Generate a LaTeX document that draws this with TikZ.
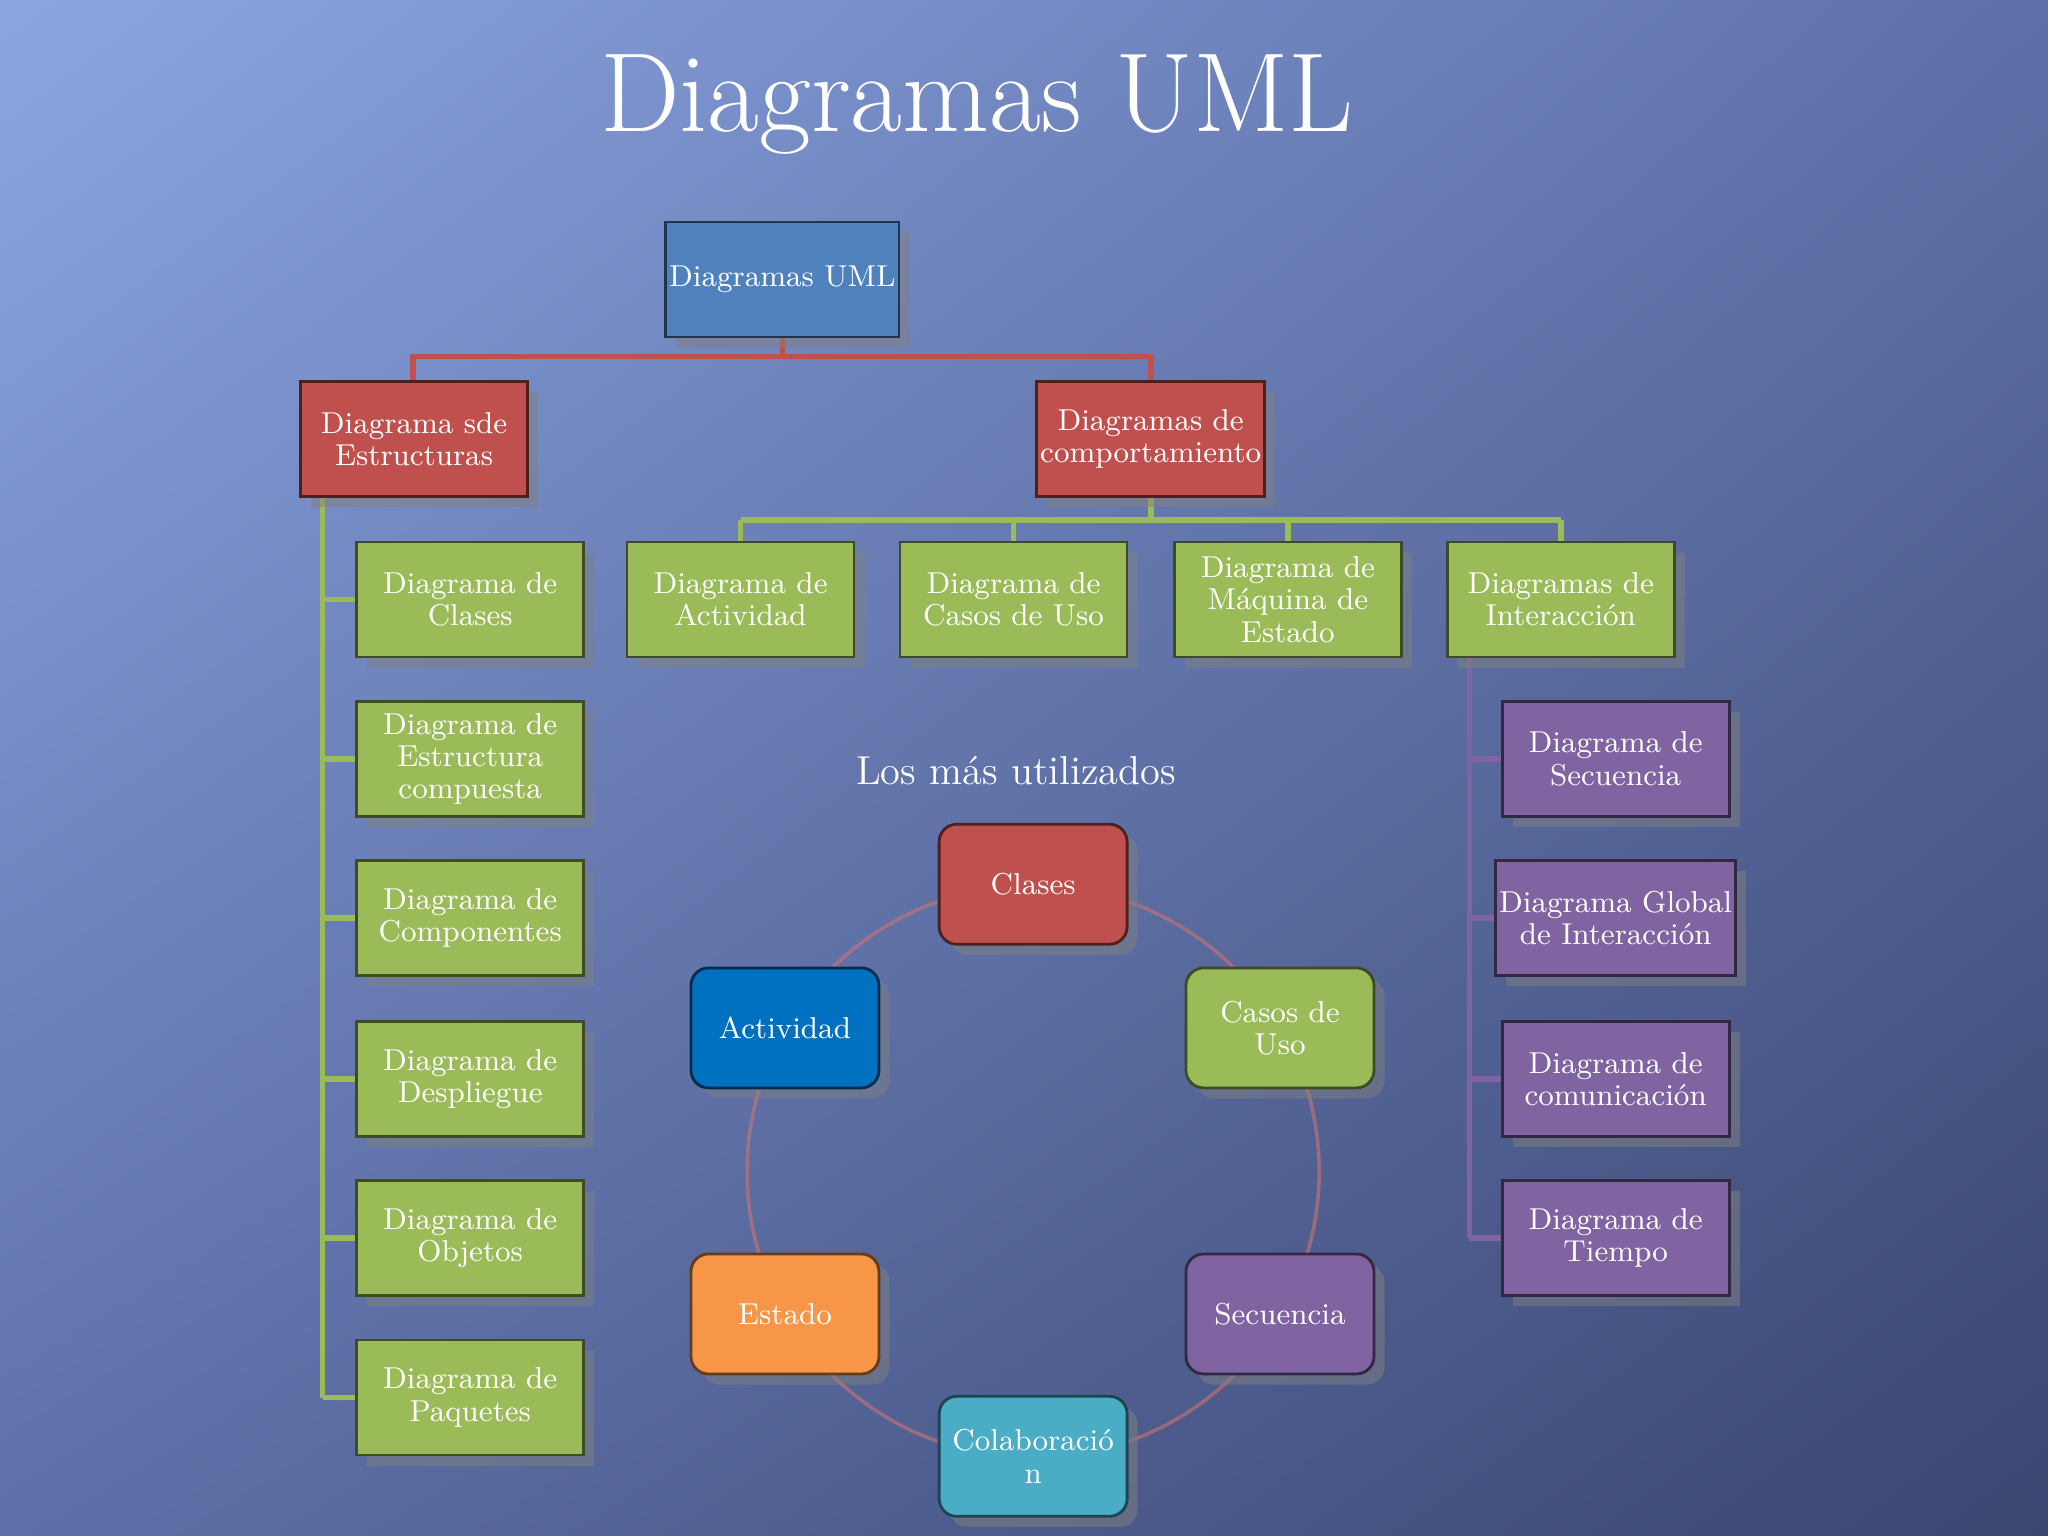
\documentclass[tikz,border=0pt]{standalone}
\usetikzlibrary{shadows,shadings}
\begin{document}
\begin{tikzpicture}[x=0.01306cm,y=-0.01306cm,
  bx/.style={draw=#1!40!black,line width=0.8pt,align=center,text=white,font=\fontsize{8.6}{9.2}\selectfont,inner sep=1pt,
    drop shadow={opacity=0.5,shadow xshift=3pt,shadow yshift=-3pt}},
  sq/.style={bx=#1,fill=#1,minimum width=2.27cm,minimum height=1.15cm},
  rd/.style={bx=#1,fill=#1,minimum width=1.88cm,minimum height=1.2cm,rounded corners=5pt}]
\definecolor{cb}{HTML}{4F81BD}\definecolor{cr}{HTML}{C0504D}\definecolor{cg}{HTML}{9BBB59}
\definecolor{cp}{HTML}{8064A2}\definecolor{ca}{HTML}{0070C0}\definecolor{co}{HTML}{F79646}\definecolor{cc}{HTML}{4BACC6}
\definecolor{bgA}{HTML}{8CA6E2}\definecolor{bgB}{HTML}{3E4C7A}\definecolor{bgC}{HTML}{5E70A8}\definecolor{bgD}{HTML}{3A4670}
\shade[upper left=bgA,upper right=bgC,lower left=bgC,lower right=bgD] (0,0) rectangle (1568,1176);
\useasboundingbox (0,0) rectangle (1568,1176);
\node[text=white,font=\fontsize{32}{34}\selectfont] (title) at (748,80) {Diagramas UML};
\node[text=white,font=\fontsize{11.5}{12}\selectfont] (lmu) at (778,590) {Los más utilizados};
% tree connectors
\coordinate (r1) at (599,273);
\draw[cr,line width=1.6pt] (599,258) -- (r1) -- (316,273) -- (316,292) (r1) -- (881,273) -- (881,292);
\draw[cg,line width=1.6pt] (881,380) -- (881,398) (567,398) -- (1195,398);
\foreach \x in {567,776,986,1195} \draw[cg,line width=1.6pt] (\x,398) -- (\x,414);
\draw[cg,line width=1.6pt] (247,380) -- (247,1070);
\foreach \y in {459,581,703,826,948,1070} \draw[cg,line width=1.6pt] (247,\y) -- (272,\y);
\draw[cp,line width=1.6pt] (1125,502) -- (1125,948);
\foreach \y in {581,703,826,948} \draw[cp,line width=1.6pt] (1125,\y) -- (1150,\y);
% tree nodes
\node[sq=cb] (uml) at (599,214) {Diagramas UML};
\node[sq=cr] (est) at (317,336) {Diagrama sde\\Estructuras};
\node[sq=cr] (com) at (881,336) {Diagramas de\\comportamiento};
\node[sq=cg] (g1) at (567,459) {Diagrama de\\Actividad};
\node[sq=cg] (g2) at (776,459) {Diagrama de\\Casos de Uso};
\node[sq=cg] (g3) at (986,459) {Diagrama de\\Máquina de\\Estado};
\node[sq=cg] (g4) at (1195,459) {Diagramas de\\Interacción};
\foreach \n/\y/\t in {l1/459/{Diagrama de\\Clases},l2/581/{Diagrama de\\Estructura\\compuesta},l3/703/{Diagrama de\\Componentes},l4/826/{Diagrama de\\Despliegue},l5/948/{Diagrama de\\Objetos},l6/1070/{Diagrama de\\Paquetes}}
  \node[sq=cg] (\n) at (360,\y) {\t};
\foreach \n/\y/\t in {p1/581/{Diagrama de\\Secuencia},p2/703/{Diagrama Global\\de Interacción},p3/826/{Diagrama de\\comunicación},p4/948/{Diagrama de\\Tiempo}}
  \node[sq=cp] (\n) at (1237,\y) {\t};
% cycle
\draw[cr!80!white,opacity=0.6,line width=1pt] (791,897) circle (219);
\node[rd=cr] (c1) at (791,677) {Clases};
\node[rd=cg] (c2) at (980,787) {Casos de\\Uso};
\node[rd=cp] (c3) at (980,1006) {Secuencia};
\node[rd=cc] (c4) at (791,1115) {Colaboració\\n};
\node[rd=co] (c5) at (601,1006) {Estado};
\node[rd=ca] (c6) at (601,787) {Actividad};
\end{tikzpicture}
\end{document}
